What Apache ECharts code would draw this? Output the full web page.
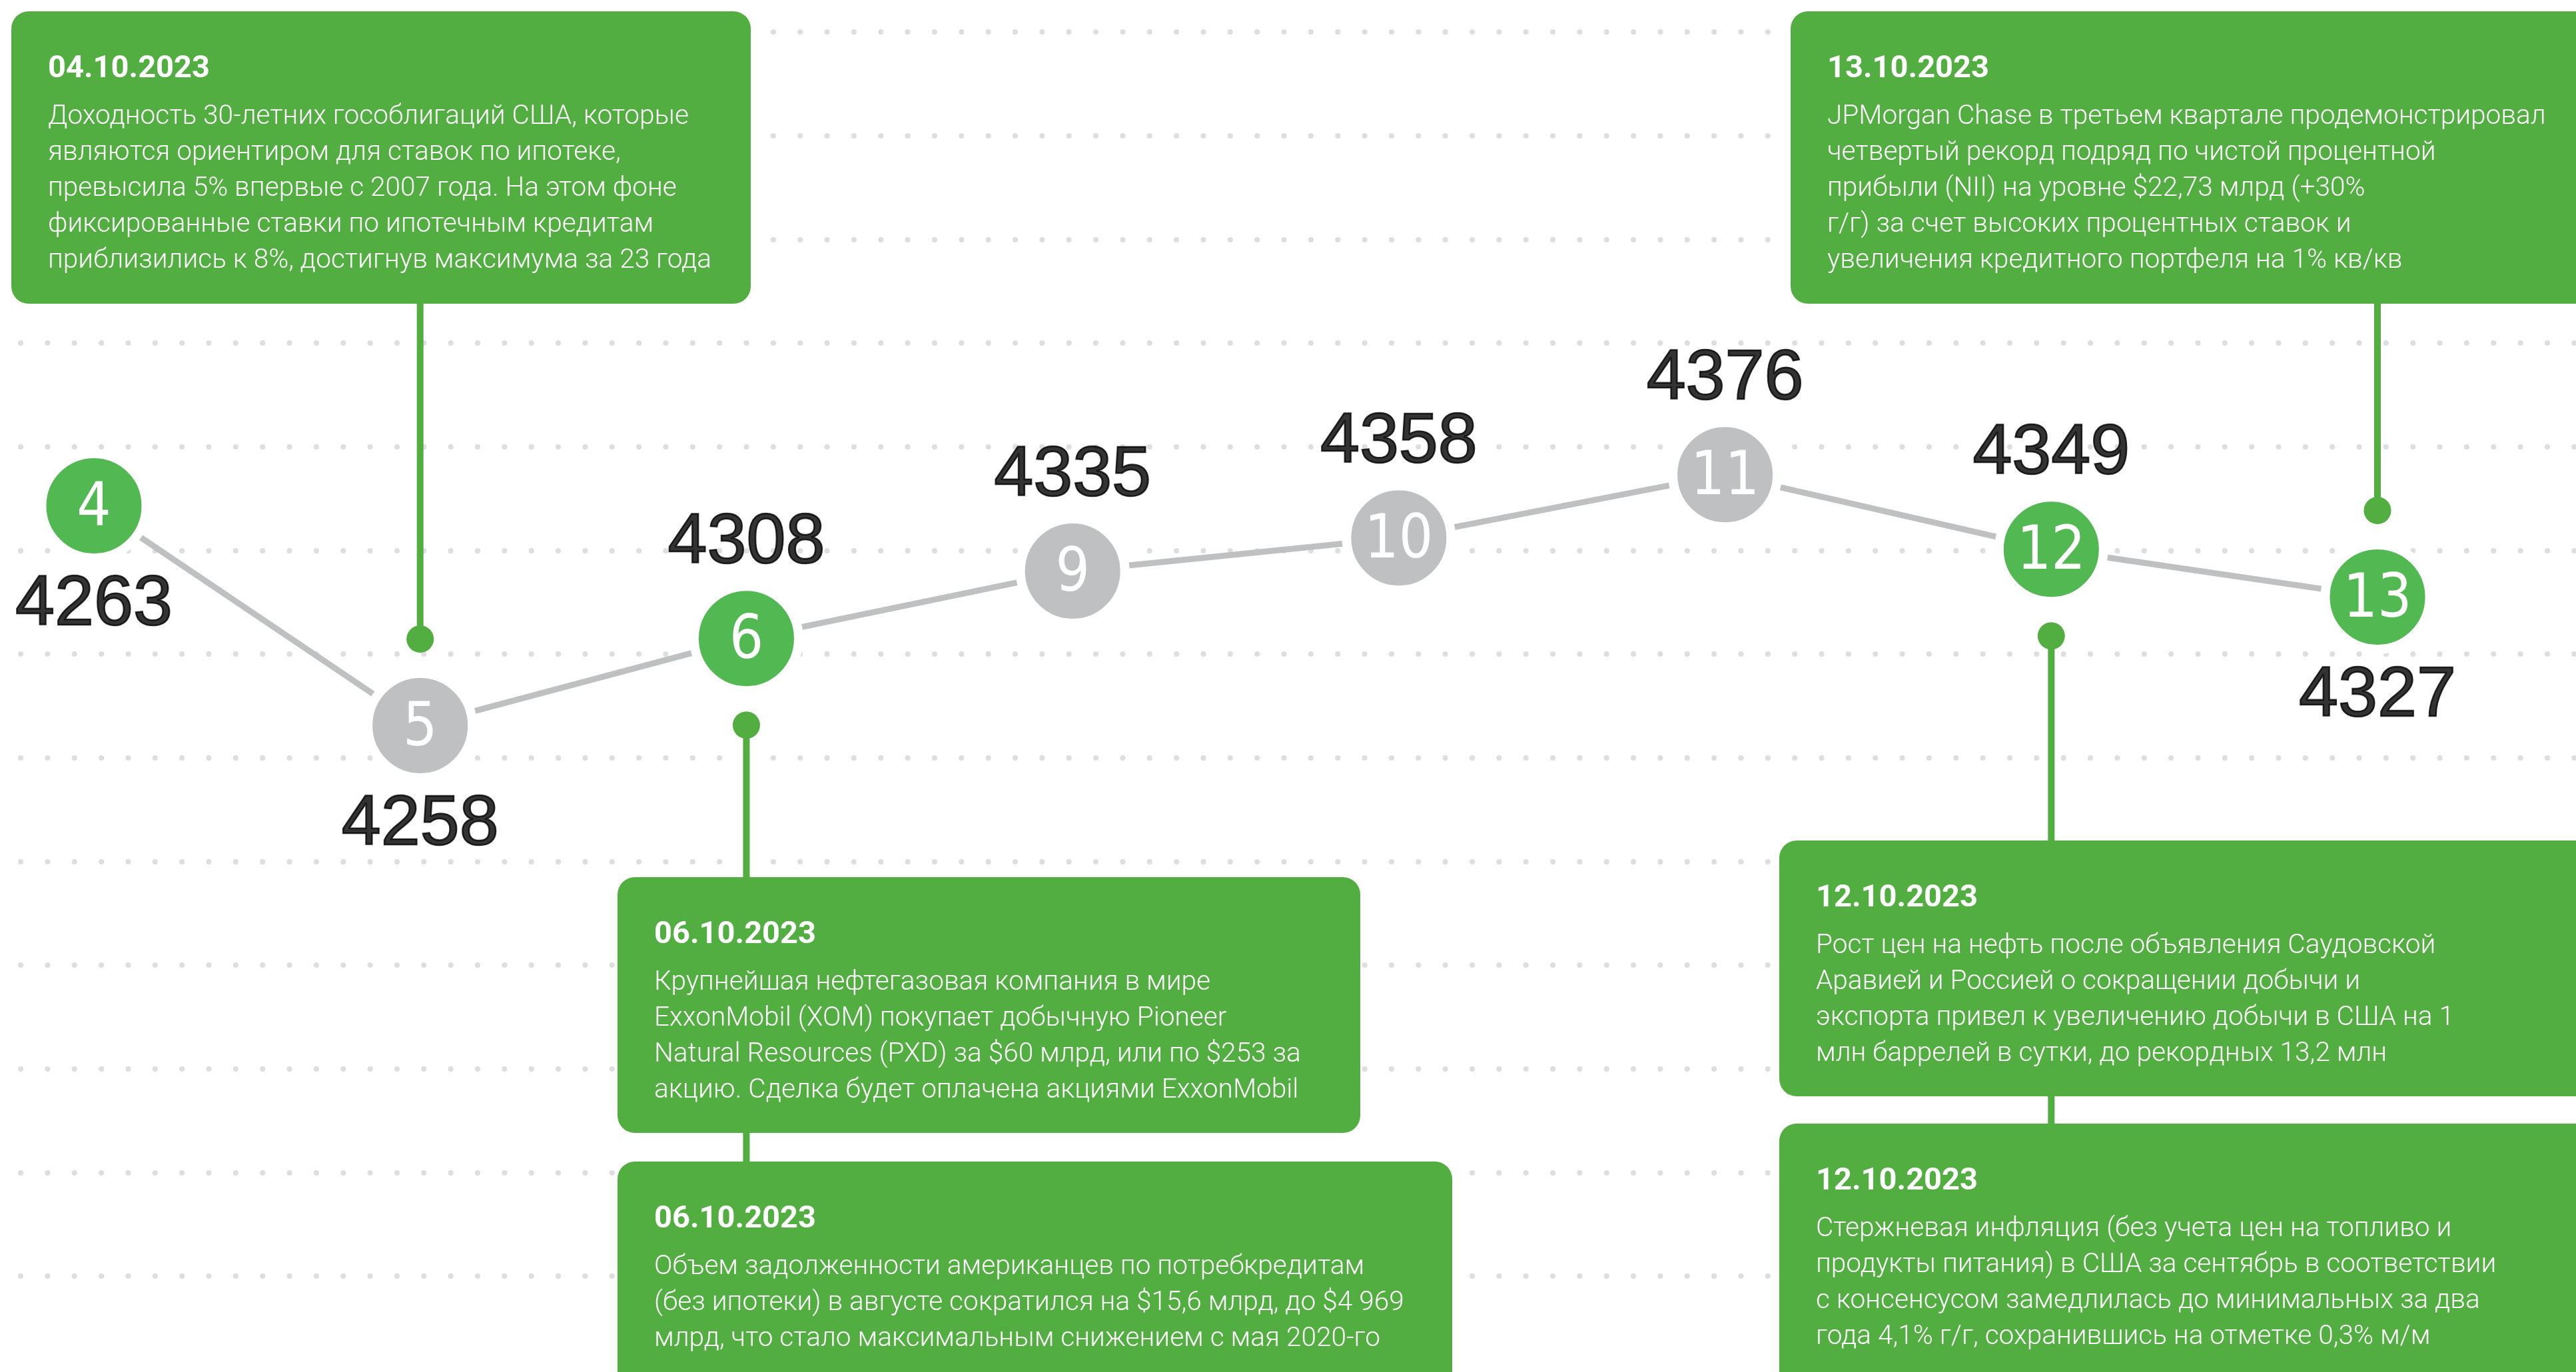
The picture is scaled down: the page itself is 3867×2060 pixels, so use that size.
<!DOCTYPE html>
<html>
<head>
<meta charset="utf-8">
<script src="https://cdn.jsdelivr.net/npm/echarts@6/dist/echarts.min.js"></script>
<style>
	html, body { margin: 0; padding: 0; background: #fff; }
	#chart { width: 3867px; height: 2060px; }
</style>
</head>
<body>
<div id="chart"></div>
<script>
	var categories = ['4', '5', '6', '9', '10', '11', '12', '13'];
	var closeValues = [4263, 4258, 4308, 4335, 4358, 4376, 4349, 4327];
	// the drawing is not to scale: level of each circle, counted in dotted rows from the lowest row
	var plotLevel = [7.43, 5.31, 6.15, 6.80, 7.12, 7.73, 7.01, 6.55];
	var newsDays = ['4', '6', '12', '13'];

	var noteDates = ['04.10.2023', '13.10.2023', '06.10.2023', '06.10.2023', '12.10.2023', '12.10.2023'];
	var noteTexts = [
		'Доходность 30-летних гособлигаций США, которые\nявляются ориентиром для ставок по ипотеке,\nпревысила 5% впервые с 2007 года. На этом фоне\nфиксированные ставки по ипотечным кредитам\nприблизились к 8%, достигнув максимума за 23 года',
		'JPMorgan Chase в третьем квартале продемонстрировал\nчетвертый рекорд подряд по чистой процентной\nприбыли (NII) на уровне $22,73 млрд (+30%\nг/г) за счет высоких процентных ставок и\nувеличения кредитного портфеля на 1% кв/кв',
		'Крупнейшая нефтегазовая компания в мире\nExxonMobil (XOM) покупает добычную Pioneer\nNatural Resources (PXD) за $60 млрд, или по $253 за\nакцию. Сделка будет оплачена акциями ExxonMobil',
		'Объем задолженности американцев по потребкредитам\n(без ипотеки) в августе сократился на $15,6 млрд, до $4 969\nмлрд, что стало максимальным снижением с мая 2020-го',
		'Рост цен на нефть после объявления Саудовской\nАравией и Россией о сокращении добычи и\nэкспорта привел к увеличению добычи в США на 1\nмлн баррелей в сутки, до рекордных 13,2 млн',
		'Стержневая инфляция (без учета цен на топливо и\nпродукты питания) в США за сентябрь в соответствии\nс консенсусом замедлилась до минимальных за два\nгода 4,1% г/г, сохранившись на отметке 0,3% м/м'
	];

	var GREEN = '#52ae40';
	var CIRCLE_GREEN = '#52b852';
	var GRAY = '#bfc0c2';

	var boxes = [
		{x: 17, y: 17, w: 1110, h: 439},
		{x: 2688, y: 17, w: 1260, h: 439},
		{x: 927, y: 1317, w: 1115, h: 384},
		{x: 927, y: 1744, w: 1253, h: 420},
		{x: 2671, y: 1262, w: 1260, h: 384},
		{x: 2671, y: 1687, w: 1260, h: 420}
	];
	// day, direction of the dot from the circle, end of the stem
	var stems = [
		{day: '5', dir: -1, end: 440},
		{day: '13', dir: -1, end: 440},
		{day: '6', dir: 1, end: 1760},
		{day: '12', dir: 1, end: 1700}
	];
	var labelBelow = ['4', '5', '13'];

	var myChart = echarts.init(document.getElementById('chart'));

	var option = {
		animation: false,
		backgroundColor: '#fff',
		grid: [
			{left: 31, right: 0, top: 48, bottom: 144},
			{left: 141, right: 298, top: 48, bottom: 144}
		],
		xAxis: [
			{gridIndex: 0, type: 'value', min: 0, max: 1, show: false},
			{gridIndex: 1, type: 'category', data: categories, boundaryGap: false, show: false}
		],
		yAxis: [
			{
				gridIndex: 0, type: 'value', min: 0, max: 12, interval: 1,
				axisLine: {show: false}, axisTick: {show: false}, axisLabel: {show: false},
				splitLine: {
					show: true,
					lineStyle: {color: '#dedede', width: 8, type: [0.1, 40.25], cap: 'round'}
				}
			},
			{gridIndex: 1, type: 'value', min: 0, max: 12, show: false}
		],
		series: [
			{
				type: 'line',
				xAxisIndex: 1,
				yAxisIndex: 1,
				z: 5,
				symbol: 'circle',
				symbolSize: 157,
				lineStyle: {color: GRAY, width: 9},
				itemStyle: {borderColor: '#fff', borderWidth: 14},
				emphasis: {disabled: true},
				label: {
					show: true,
					position: 'inside',
					offset: [0, 6],
					formatter: function(p) { return categories[p.dataIndex]; },
					color: '#fff',
					fontSize: 90,
					fontFamily: '"Liberation Sans Narrow", "DejaVu Sans Condensed", sans-serif'
				},
				data: plotLevel.map(function(v, i) {
					return {
						value: v,
						itemStyle: {color: newsDays.indexOf(categories[i]) >= 0 ? CIRCLE_GREEN : GRAY}
					};
				})
			},
			{
				type: 'scatter',
				xAxisIndex: 1,
				yAxisIndex: 1,
				z: 6,
				symbolSize: 1,
				itemStyle: {color: 'rgba(0,0,0,0)'},
				emphasis: {disabled: true},
				data: plotLevel.map(function(v, i) {
					var below = labelBelow.indexOf(categories[i]) >= 0;
					return {
						value: v,
						label: {offset: [0, below ? 149 : -143]}
					};
				}),
				label: {
					show: true,
					position: 'inside',
					formatter: function(p) { return String(closeValues[p.dataIndex]); },
					color: '#000',
					fontSize: 106,
					fontFamily: '"Liberation Sans", Arial, sans-serif',
					textBorderColor: '#000',
					textBorderWidth: 2.5
				}
			}
		]
	};
	myChart.setOption(option);

	var elements = [];
	stems.forEach(function(s) {
		var i = categories.indexOf(s.day);
		var pt = myChart.convertToPixel({xAxisIndex: 1, yAxisIndex: 1}, [i, plotLevel[i]]);
		var dotY = pt[1] + s.dir * 130;
		elements.push({
			type: 'line', z: 3,
			shape: {x1: pt[0], y1: dotY, x2: pt[0], y2: s.end},
			style: {stroke: GREEN, lineWidth: 10}
		});
		elements.push({
			type: 'circle', z: 3,
			shape: {cx: pt[0], cy: dotY, r: 20.5},
			style: {fill: GREEN}
		});
	});
	boxes.forEach(function(b, k) {
		elements.push({
			type: 'rect', z: 10,
			shape: {x: b.x, y: b.y, width: b.w, height: b.h, r: 26},
			style: {fill: GREEN}
		});
		elements.push({
			type: 'text', z: 11,
			x: b.x + 55, y: b.y + 87,
			style: {
				text: noteDates[k], fill: '#fff',
				fontSize: 47, fontWeight: 700, fontFamily: 'Roboto, sans-serif',
				verticalAlign: 'middle', align: 'left'
			}
		});
		elements.push({
			type: 'text', z: 11,
			x: b.x + 55, y: b.y + 132,
			style: {
				text: noteTexts[k], fill: '#fff',
				fontSize: 40.6, fontWeight: 300, fontFamily: 'Roboto, sans-serif',
				lineHeight: 54, verticalAlign: 'top', align: 'left'
			}
		});
	});
	myChart.setOption({graphic: {elements: elements}});
</script>
</body>
</html>
